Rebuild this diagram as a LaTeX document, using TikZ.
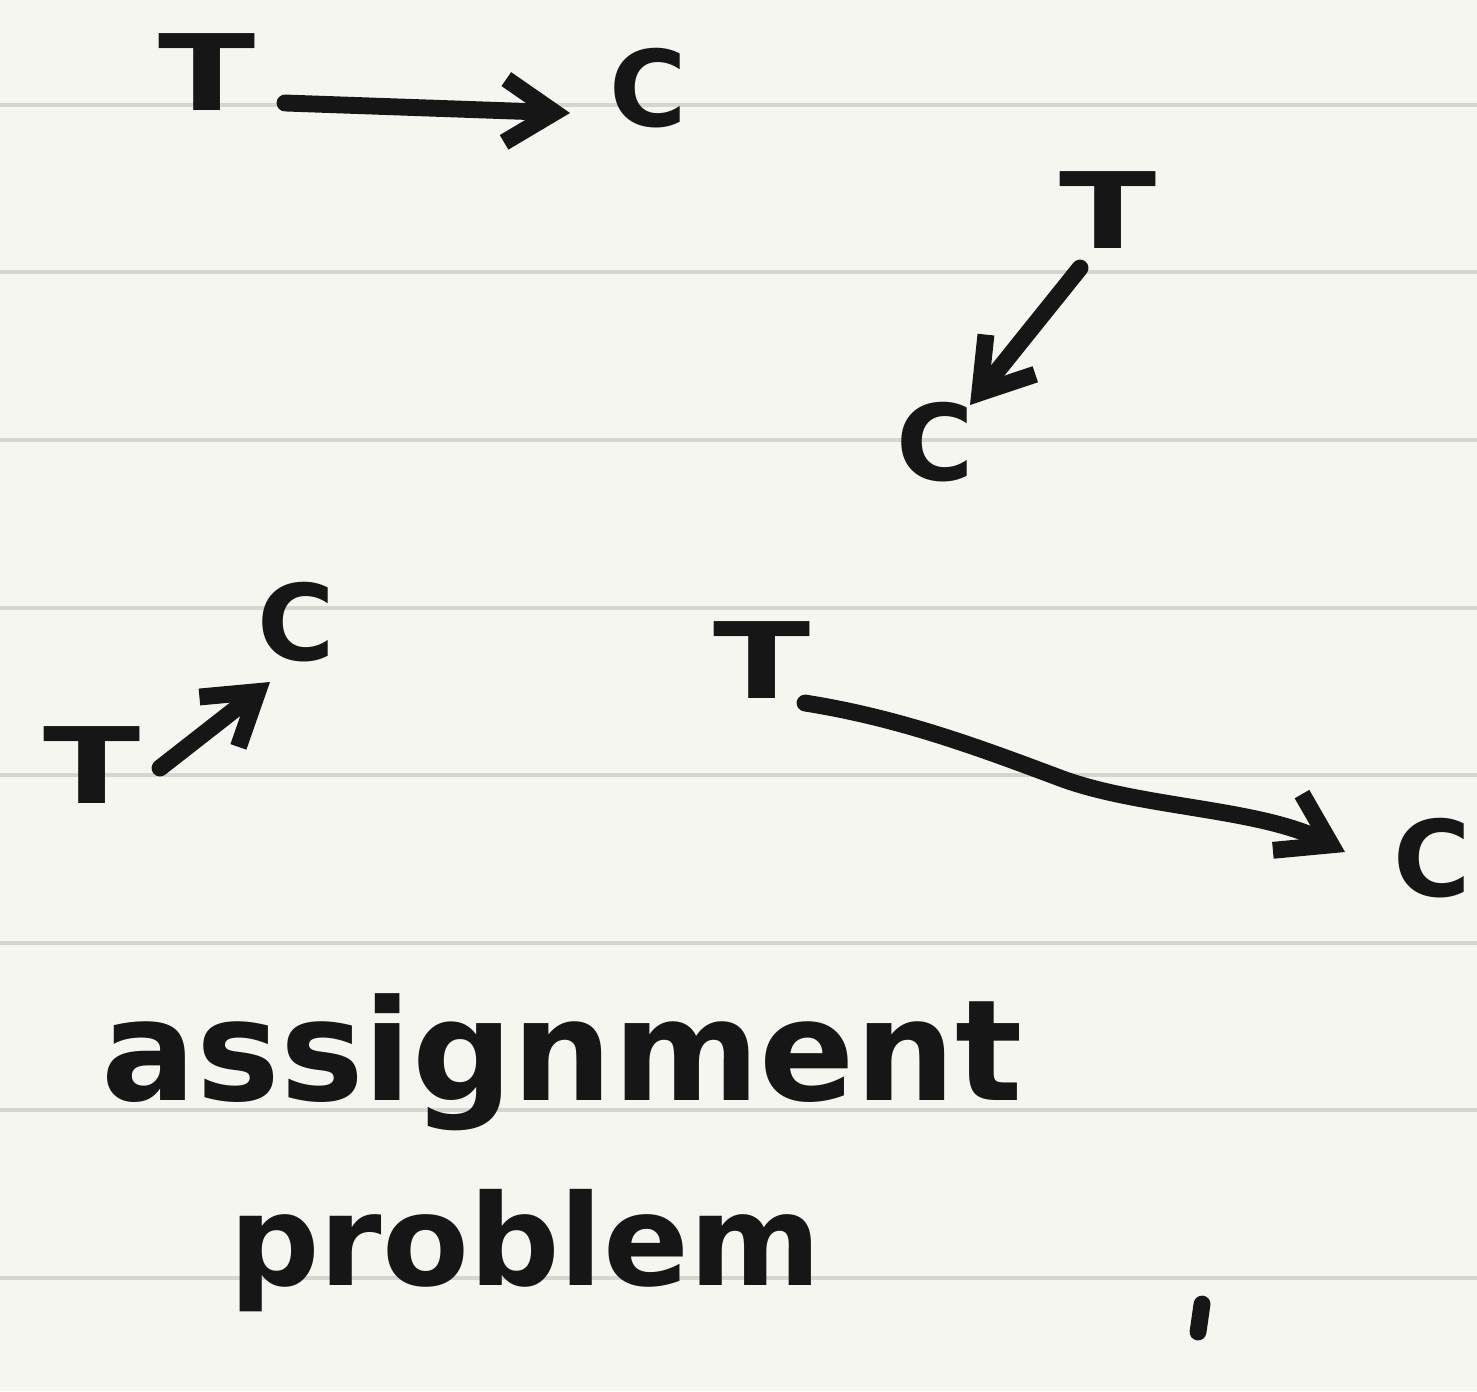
\documentclass[tikz,border=0pt]{standalone}
\usepackage{fontspec}
\setmainfont{DejaVu Sans}
\usetikzlibrary{arrows.meta,calc}
\definecolor{paper}{HTML}{F6F6F1}
\definecolor{rule}{HTML}{D6D6D0}
\definecolor{ink}{HTML}{161616}
\newcommand{\wideT}{\scalebox{1.35}[1]{T}}
\tikzset{
  letter/.style={text=ink, inner sep=0pt, outer sep=0pt, font=\bfseries\fontsize{30}{30}\selectfont},
  inkline/.style={draw=ink, line width=4.8pt, line cap=round, line join=round},
  arr/.style={inkline, -{Straight Barb[length=14pt, width=18pt, line width=4.8pt]}},
  words/.style={text=ink, inner sep=0pt, anchor=base},
  ruled/.style={draw=rule, line width=1.15pt}
}
\begin{document}
\begin{tikzpicture}[x=0.01cm, y=-0.01cm]
  \fill[paper] (0,0) rectangle (1477,1391);
  \useasboundingbox (0,0) rectangle (1477,1391);
  \foreach \yy in {105,272,440,608,775,943,1110,1278}
    \draw[ruled] (0,\yy) -- (1477,\yy);
  % letters
  \node[letter] (t1) at (207,72) {\wideT};
  \node[letter] (c1) at (648,88) {C};
  \node[letter] (t2) at (1108,210) {\wideT};
  \node[letter] (c2) at (935,442) {C};
  \node[letter] (c3) at (296,622) {C};
  \node[letter] (t3) at (92,765) {\wideT};
  \node[letter] (t4) at (762,660) {\wideT};
  \node[letter] (c4) at (1432,858) {C};
  % arrows
  \draw[arr] ($(t1)+(78,31)$) -- ($(c1)+(-78,25)$);
  \draw[arr] ($(t2)+(-28,58)$) -- ($(c2)+(35,-37)$);
  \draw[arr] ($(t3)+(68,3)$) -- ($(c3)+(-26,60)$);
  \draw[arr] ($(t4)+(43,43)$) .. controls (900,718) and (980,748) .. (1060,778)
                 .. controls (1140,808) and (1260,808) .. ($(c4)+(-87,-6)$);
  % words
  \node[words, font=\bfseries\fontsize{40}{40}\selectfont] (w1) at (562,1100) {assignment};
  \node[words, font=\bfseries\fontsize{36}{36}\selectfont] (w2) at (525,1285) {problem};
  % stray mark
  \draw[inkline] (1202,1304) -- (1198,1332);
\end{tikzpicture}
\end{document}
